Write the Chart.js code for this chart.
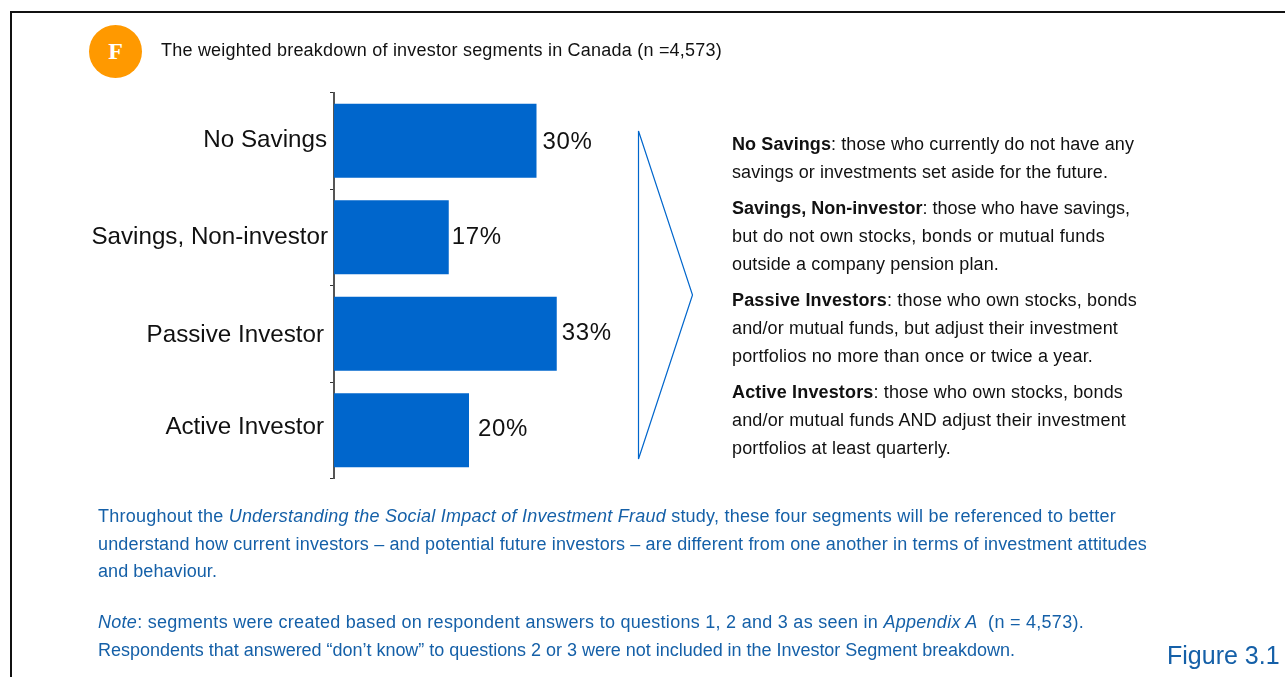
<!DOCTYPE html>
<html>
<head>
<meta charset="utf-8">
<title>Figure 3.1</title>
<script src="https://cdn.jsdelivr.net/npm/chart.js@4"></script>
<style>
    html, body { margin: 0; padding: 0; background: #fff; }
    body { position: relative; width: 1285px; height: 677px; overflow: hidden; font-family: "Liberation Sans", sans-serif; }
    #frame { position: absolute; left: 10px; top: 11px; width: 1285px; height: 700px; border: 2px solid #111; box-sizing: border-box; }
    #chart { position: absolute; left: 0; top: 0; }
    #arrow { position: absolute; left: 0; top: 0; }
    .line { position: absolute; white-space: nowrap; font-size: 18px; line-height: 20px; color: #111; }
    .blue { color: #1560a8; }
    #badge { position: absolute; left: 89px; top: 25px; width: 53px; height: 53px; border-radius: 50%; background: #ff9900; color: #fff; font: bold 24px/53px "Liberation Serif", serif; text-align: center; }
    #fig { position: absolute; left: 1167px; top: 640px; font-size: 25px; line-height: 30px; color: #1560a8; white-space: nowrap; }
</style>
</head>
<body>
<div id="frame"></div>
<canvas id="chart" width="1285" height="677"></canvas>
<svg id="arrow" width="1285" height="677"><polygon points="638.5,131 638.5,459 692.5,295" fill="none" stroke="#0066cc" stroke-width="1.2"/></svg>
<div id="badge">F</div>
<div class="line" data-right="722" style="left:161px;top:40px">The weighted breakdown of investor segments in Canada (n =4,573)</div>

<div class="line" data-right="1134" style="left:732px;top:134px"><b>No Savings</b>: those who currently do not have any</div>
<div class="line" data-right="1108" style="left:732px;top:162px">savings or investments set aside for the future.</div>
<div class="line" data-right="1130" style="left:732px;top:198px"><b>Savings, Non-investor</b>: those who have savings,</div>
<div class="line" data-right="1105" style="left:732px;top:226px">but do not own stocks, bonds or mutual funds</div>
<div class="line" data-right="999" style="left:732px;top:254px">outside a company pension plan.</div>
<div class="line" data-right="1137" style="left:732px;top:290px"><b>Passive Investors</b>: those who own stocks, bonds</div>
<div class="line" data-right="1118" style="left:732px;top:318px">and/or mutual funds, but adjust their investment</div>
<div class="line" data-right="1093" style="left:732px;top:346px">portfolios no more than once or twice a year.</div>
<div class="line" data-right="1123" style="left:732px;top:382px"><b>Active Investors</b>: those who own stocks, bonds</div>
<div class="line" data-right="1126" style="left:732px;top:410px">and/or mutual funds AND adjust their investment</div>
<div class="line" data-right="951" style="left:732px;top:438px">portfolios at least quarterly.</div>

<div class="line blue" data-right="1116" style="left:98px;top:506px">Throughout the <i>Understanding the Social Impact of Investment Fraud</i> study, these four segments will be referenced to better</div>
<div class="line blue" data-right="1147" style="left:98px;top:534px">understand how current investors – and potential future investors – are different from one another in terms of investment attitudes</div>
<div class="line blue" data-right="217" style="left:98px;top:561px">and behaviour.</div>
<div class="line blue" data-right="1084" style="left:98px;top:612px"><i>Note</i>: segments were created based on respondent answers to questions 1, 2 and 3 as seen in <i>Appendix A</i>&nbsp; (n = 4,573).</div>
<div class="line blue" data-right="1015" style="left:98px;top:640px">Respondents that answered “don’t know” to questions 2 or 3 were not included in the Investor Segment breakdown.</div>
<div id="fig">Figure 3.1</div>

<script>
const categories = ['No Savings', 'Savings, Non-investor', 'Passive Investor', 'Active Investor'];
const segmentValues = [30, 17, 33, 20];

// labels sit a little unevenly in the original, so each gets its own nudge
const nameNudge = [[327, 0], [328, 0], [324, 2], [324, -3]];
const percentNudge = [[6, 2], [3, 0], [5, 0], [9, -1]];

const barLabels = {
    id: 'barLabels',
    afterDatasetsDraw(chart) {
        const ctx = chart.ctx;
        const bars = chart.getDatasetMeta(0).data;
        ctx.save();
        ctx.fillStyle = '#111';
        ctx.textBaseline = 'middle';
        bars.forEach((bar, i) => {
            ctx.font = '24.2px "Liberation Sans"';
            ctx.textAlign = 'right';
            ctx.letterSpacing = '0px';
            ctx.fillText(categories[i], nameNudge[i][0], bar.y + nameNudge[i][1]);

            ctx.textAlign = 'left';
            ctx.font = '24px "Liberation Sans"';
            ctx.letterSpacing = '0.7px';
            ctx.fillText(segmentValues[i] + '%', bar.x + percentNudge[i][0], bar.y + percentNudge[i][1]);
        });
        ctx.restore();
    }
};

new Chart(document.getElementById('chart').getContext('2d'), {
    type: 'bar',
    data: {
        labels: categories,
        datasets: [{
            data: segmentValues,
            backgroundColor: '#0066cc',
            barPercentage: 0.767,
            categoryPercentage: 1
        }]
    },
    options: {
        indexAxis: 'y',
        responsive: false,
        animation: false,
        layout: { padding: { left: 0, top: 92.5, right: 276, bottom: 198.5 } },
        plugins: { legend: { display: false }, tooltip: { enabled: false } },
        scales: {
            x: { display: false, min: 0, max: 100 },
            y: {
                afterFit(scale) { scale.width = 334; },
                border: { color: '#555', width: 2 },
                grid: { offset: true, drawOnChartArea: false, drawTicks: true, tickLength: 4, color: '#333' },
                ticks: { display: false }
            }
        }
    },
    plugins: [barLabels]
});

// stretch each text line to the width it has in the original
document.querySelectorAll('.line').forEach(el => {
    const box = el.getBoundingClientRect();
    const spare = Number(el.dataset.right) - box.right;
    el.style.letterSpacing = (spare / el.textContent.length).toFixed(3) + 'px';
});
</script>
</body>
</html>
